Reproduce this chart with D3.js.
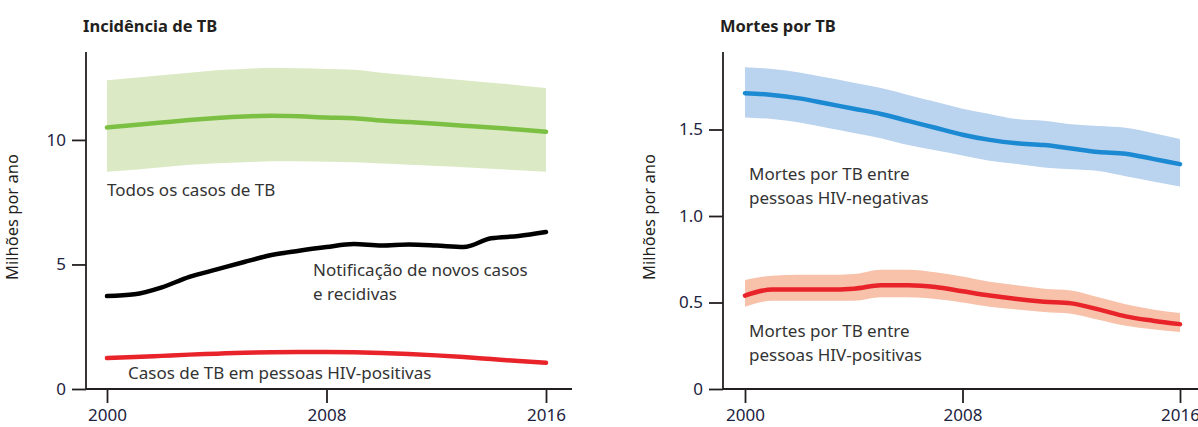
<!DOCTYPE html>
<html>
<head>
<meta charset="utf-8">
<script src="https://cdn.jsdelivr.net/npm/d3@7"></script>
<style>
  body { margin: 0; background: #fff; }
  text { font-family: "Noto Sans", "Open Sans", sans-serif; }
</style>
</head>
<body>
<svg id="chart" width="1198" height="427"></svg>
<script>
const years = d3.range(2000, 2017);
const xTicks = [2000, 2008, 2016];

// Incidência de TB (milhões)
const incidence = [10.5, 10.6, 10.7, 10.8, 10.88, 10.94, 10.97, 10.95, 10.9, 10.87, 10.78, 10.72, 10.65, 10.57, 10.5, 10.42, 10.33];
const incidenceHi = [12.4, 12.5, 12.6, 12.7, 12.8, 12.85, 12.9, 12.88, 12.85, 12.82, 12.7, 12.6, 12.5, 12.4, 12.3, 12.2, 12.08];
const incidenceLo = [8.72, 8.8, 8.9, 9.0, 9.06, 9.1, 9.14, 9.14, 9.12, 9.1, 9.05, 9.0, 8.95, 8.9, 8.84, 8.78, 8.72];
const notified = [3.73, 3.8, 4.08, 4.5, 4.8, 5.1, 5.38, 5.55, 5.7, 5.82, 5.76, 5.8, 5.76, 5.7, 6.05, 6.14, 6.3];
const hivCases = [1.24, 1.28, 1.33, 1.38, 1.42, 1.46, 1.48, 1.49, 1.49, 1.48, 1.45, 1.41, 1.35, 1.28, 1.2, 1.12, 1.05];
const leftTicks = [0, 5, 10];

// Mortes por TB (milhões)
const deathsNeg = [1.71, 1.70, 1.68, 1.65, 1.62, 1.59, 1.55, 1.51, 1.47, 1.44, 1.42, 1.41, 1.39, 1.37, 1.36, 1.33, 1.30];
const deathsNegHi = [1.86, 1.85, 1.83, 1.8, 1.77, 1.74, 1.7, 1.66, 1.62, 1.59, 1.56, 1.55, 1.53, 1.52, 1.51, 1.48, 1.445];
const deathsNegLo = [1.57, 1.56, 1.54, 1.51, 1.48, 1.45, 1.41, 1.38, 1.35, 1.32, 1.30, 1.28, 1.27, 1.26, 1.23, 1.2, 1.17];
const deathsPos = [0.54, 0.575, 0.575, 0.575, 0.58, 0.6, 0.6, 0.59, 0.565, 0.54, 0.52, 0.505, 0.495, 0.46, 0.42, 0.395, 0.375];
const deathsPosHi = [0.63, 0.655, 0.66, 0.66, 0.665, 0.69, 0.69, 0.675, 0.65, 0.62, 0.6, 0.58, 0.57, 0.53, 0.49, 0.46, 0.44];
const deathsPosLo = [0.475, 0.51, 0.51, 0.51, 0.51, 0.53, 0.53, 0.52, 0.5, 0.475, 0.46, 0.445, 0.435, 0.4, 0.365, 0.345, 0.33];
const rightTicks = [0, 0.5, 1.0, 1.5];

const svg = d3.select("#chart");

function panel(opt) {
    const x = d3.scaleLinear().domain([2000, 2016]).range(opt.xRange);
    const y = d3.scaleLinear().domain([0, opt.yTop]).range([389, 52]);
    const g = svg.append("g");

    // bands
    opt.bands.forEach(b => {
        const area = d3.area()
            .x((d, i) => x(years[i]))
            .y0((d, i) => y(b.lo[i]))
            .y1((d, i) => y(b.hi[i]))
            .curve(d3.curveMonotoneX);
        g.append("path").attr("d", area(b.hi)).attr("fill", b.color);
    });

    // lines
    opt.lines.forEach(l => {
        const line = d3.line()
            .x((d, i) => x(years[i]))
            .y(d => y(d))
            .curve(d3.curveMonotoneX);
        g.append("path").attr("d", line(l.values))
            .attr("fill", "none")
            .attr("stroke", l.color)
            .attr("stroke-width", 4.5)
            .attr("stroke-linecap", "round")
            .attr("stroke-linejoin", "round");
    });

    // axes
    const xAxis = g.append("g")
        .attr("transform", "translate(0,389)")
        .call(d3.axisBottom(x).tickValues(xTicks).tickFormat(d3.format("d")).tickSize(14).tickPadding(6));
    const yAxis = g.append("g")
        .attr("transform", `translate(${opt.axisX},0)`)
        .call(d3.axisLeft(y).tickValues(opt.yTicks).tickFormat(opt.yFormat).tickSize(14).tickPadding(6));
    [xAxis, yAxis].forEach(a => {
        a.select(".domain").remove();
        a.selectAll(".tick line").attr("stroke", "#231f20").attr("stroke-width", 1.8);
        a.selectAll(".tick text")
            .style("font-family", "'Liberation Sans Narrow', 'Noto Sans', sans-serif")
            .style("font-size", "17px")
            .attr("fill", "#1d2340");
    });

    g.append("line")
        .attr("x1", opt.axisX).attr("x2", opt.axisEnd)
        .attr("y1", 389).attr("y2", 389)
        .attr("stroke", "#231f20").attr("stroke-width", 1.8);
    g.append("line")
        .attr("x1", opt.axisX).attr("x2", opt.axisX)
        .attr("y1", 52).attr("y2", 389)
        .attr("stroke", "#231f20").attr("stroke-width", 1.8);

    // title
    g.append("text")
        .attr("x", opt.axisX - 3).attr("y", 32)
        .style("font-size", "16.5px").style("font-weight", "bold")
        .attr("fill", "#231f20")
        .text(opt.title);

    // y label
    g.append("text")
        .attr("transform", `translate(${opt.axisX - 68},217) rotate(-90)`)
        .attr("text-anchor", "middle")
        .style("font-size", "16.5px")
        .attr("fill", "#231f20")
        .text("Milhões por ano");

    // annotations
    opt.labels.forEach(lb => {
        const t = g.append("text")
            .attr("x", lb.x).attr("y", lb.y)
            .style("font-size", "17px")
            .attr("fill", "#333");
        lb.lines.forEach((s, i) => {
            t.append("tspan").attr("x", lb.x).attr("dy", i === 0 ? 0 : 24).text(s);
        });
    });
}

panel({
    title: "Incidência de TB",
    xRange: [107, 546], axisX: 86, axisEnd: 572,
    yTop: 13.53, yTicks: leftTicks, yFormat: d3.format("d"),
    bands: [{ hi: incidenceHi, lo: incidenceLo, color: "#dbeac5" }],
    lines: [
        { values: incidence, color: "#7cc043" },
        { values: notified, color: "#000000" },
        { values: hivCases, color: "#e8232a" }
    ],
    labels: [
        { x: 107, y: 196, lines: ["Todos os casos de TB"] },
        { x: 313, y: 276, lines: ["Notificação de novos casos", "e recidivas"] },
        { x: 128, y: 379, lines: ["Casos de TB em pessoas HIV-positivas"] }
    ]
});

panel({
    title: "Mortes por TB",
    xRange: [745, 1180], axisX: 723, axisEnd: 1198,
    yTop: 1.948, yTicks: rightTicks, yFormat: d3.format(".1f"),
    bands: [
        { hi: deathsNegHi, lo: deathsNegLo, color: "#bad3ee" },
        { hi: deathsPosHi, lo: deathsPosLo, color: "#f8c1aa" }
    ],
    lines: [
        { values: deathsNeg, color: "#1b8ad3" },
        { values: deathsPos, color: "#e8232a" }
    ],
    labels: [
        { x: 749, y: 180, lines: ["Mortes por TB entre", "pessoas HIV-negativas"] },
        { x: 749, y: 337, lines: ["Mortes por TB entre", "pessoas HIV-positivas"] }
    ]
});

// "0" tick labels show as plain 0 on both panels
svg.selectAll(".tick text").filter(d => d === 0).text("0");
</script>
</body>
</html>
